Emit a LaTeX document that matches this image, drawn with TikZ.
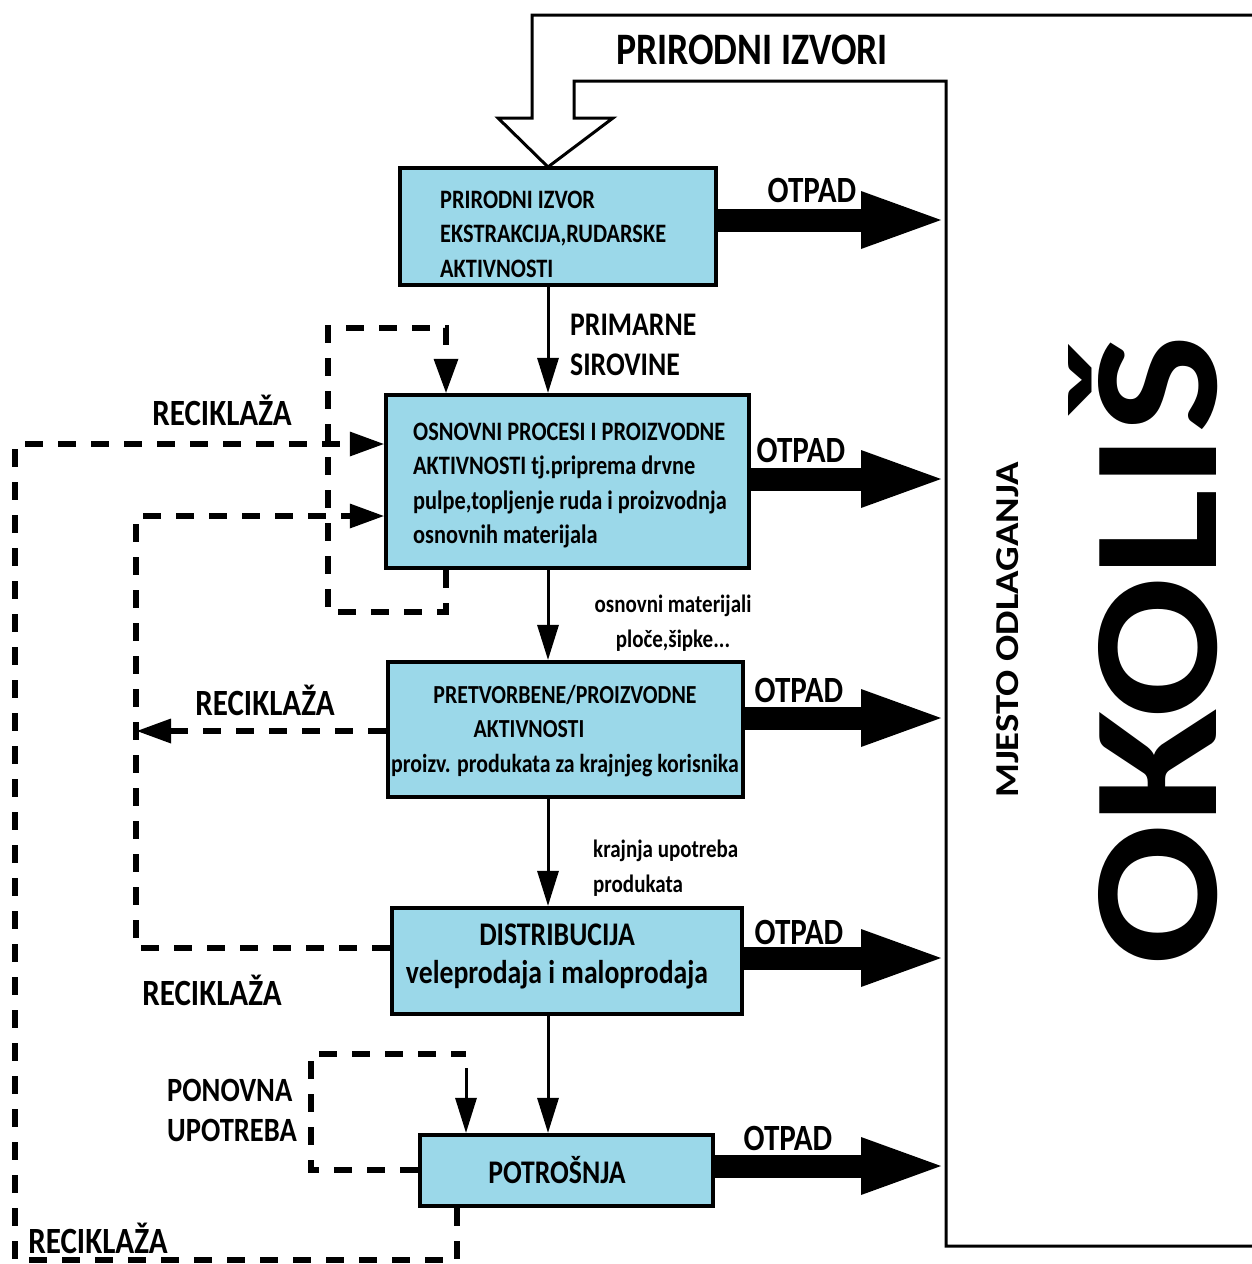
\documentclass[tikz,border=0pt]{standalone}
\usepackage{fontspec}
\setmainfont{Carlito}[FakeStretch=0.84]
\newfontfamily\widefont{Carlito}[FakeStretch=1.16]
\usetikzlibrary{arrows.meta}
\definecolor{boxblue}{RGB}{155,216,233}
\begin{document}
\begin{tikzpicture}[x=1pt,y=-1pt,
  box/.style={draw=black, line width=4.5pt, fill=boxblue, inner sep=0pt},
  frameline/.style={draw=black, line width=3pt, line join=miter},
  flow/.style={draw=black, line width=3pt, -{Triangle[length=35pt,width=22pt,line width=0pt]}},
  dashline/.style={draw=black, line width=6pt, dash pattern=on 18pt off 15pt, line join=miter},
  dasharrow/.style={dashline, -{Triangle[length=34pt,width=25pt,line width=0pt]}},
  otpadarrow/.style={draw=black, line width=23pt, -{Triangle[length=80pt,width=58pt,line width=0pt]}},
  lbl/.style={inner sep=0pt, font=\bfseries\fontsize{37}{40}\selectfont},
  midlbl/.style={inner sep=0pt, align=left, font=\bfseries\fontsize{33}{40}\selectfont},
  smalllbl/.style={inner sep=0pt, font=\bfseries\fontsize{25}{35}\selectfont},
  boxtext/.style={inner sep=0pt, font=\bfseries\fontsize{26.6}{34.3}\selectfont},
  bigboxtext/.style={inner sep=0pt, align=center, font=\bfseries\fontsize{33}{38}\selectfont}
]
\useasboundingbox (0,0) rectangle (1251,1264);

% environment frame with hollow arrow
\draw[frameline] (1260,15) -- (532,15) -- (532,118) -- (498,118) -- (548,167)
  -- (613,118) -- (574,118) -- (574,81) -- (946,81) -- (946,1246) -- (1260,1246);

\node[lbl, font=\bfseries\fontsize{45}{48}\selectfont] (prir) at (752,50) {PRIRODNI IZVORI};

% boxes
\node[box, minimum width=316pt, minimum height=117pt] (b1) at (558,226.5) {};
\node[box, minimum width=363pt, minimum height=173pt] (b2) at (567.5,481.5) {};
\node[box, minimum width=355pt, minimum height=135pt] (b3) at (565.5,729.5) {};
\node[box, minimum width=350pt, minimum height=106pt] (b4) at (567,961) {};
\node[box, minimum width=293pt, minimum height=71pt] (b5) at (566.5,1170.5) {};

% box texts
\node[boxtext, align=left, anchor=north west] (t1) at (440,191) {PRIRODNI IZVOR\\EKSTRAKCIJA,RUDARSKE\\AKTIVNOSTI};
\node[boxtext, align=left, anchor=north west] (t2) at (413,423) {OSNOVNI PROCESI I PROIZVODNE\\AKTIVNOSTI tj.priprema drvne\\pulpe,topljenje ruda i proizvodnja\\osnovnih materijala};
\node[boxtext, align=center, font=\bfseries\fontsize{26}{34.3}\selectfont] (t3) at (565,731) {PRETVORBENE/PROIZVODNE\\AKTIVNOSTI\rule{72pt}{0pt}\\proizv. produkata za krajnjeg korisnika};
\node[bigboxtext] (t4) at (557,956) {DISTRIBUCIJA\\veleprodaja i maloprodaja};
\node[bigboxtext] (t5) at (557,1170) {POTROŠNJA};

% main flow
\coordinate (vx) at (548,0);
\draw[flow] (b1.south -| vx) -- (b2.north -| vx);
\draw[flow] (b2.south -| vx) -- (b3.north -| vx);
\draw[flow] (b3.south -| vx) -- (b4.north -| vx);
\draw[flow] (b4.south -| vx) -- (b5.north -| vx);

\node[midlbl, anchor=west] (prim) at (570,345) {PRIMARNE\\SIROVINE};
\node[smalllbl, align=center] (osn) at (673,623) {osnovni materijali\\ploče,šipke...};
\node[smalllbl, align=left, anchor=west] (kraj) at (593,868) {krajnja upotreba\\produkata};

% OTPAD arrows
\coordinate (e1) at (941,220);
\coordinate (e2) at (941,479);
\coordinate (e3) at (941,718);
\coordinate (e4) at (941,958);
\coordinate (e5) at (941,1166);
\draw[otpadarrow] (b1.east |- e1) -- (e1);
\draw[otpadarrow] (b2.east |- e2) -- (e2);
\draw[otpadarrow] (b3.east |- e3) -- (e3);
\draw[otpadarrow] (b4.east |- e4) -- (e4);
\draw[otpadarrow] (b5.east |- e5) -- (e5);
\node[lbl] (o1) at (812,190) {OTPAD};
\node[lbl] (o2) at (801,450) {OTPAD};
\node[lbl] (o3) at (799,690) {OTPAD};
\node[lbl] (o4) at (799,932) {OTPAD};
\node[lbl] (o5) at (788,1138) {OTPAD};

% recycling loops
\coordinate (c446) at (446,0);
\coordinate (c457) at (457,0);
\coordinate (c466) at (466,0);
\coordinate (y445) at (0,444);
\coordinate (y516) at (0,516);
\coordinate (y731) at (0,731);
\coordinate (y948) at (0,948);
\coordinate (y1170) at (0,1170);
\coordinate (d3end) at (137,731);
\coordinate (r5top) at (466,1068);

\draw[dasharrow] (b2.south -| c446) -- (446,612) -- (328,612) -- (328,328) -- (446,328) -- (b2.north -| c446);
\draw[dasharrow] (b5.south -| c457) -- (457,1260) -- (15,1260) -- (15,444) -- (b2.west |- y445);
\draw[dasharrow] (b4.west |- y948) -- (136,948) -- (136,516) -- (b2.west |- y516);
\draw[dasharrow] (b3.west |- y731) -- (d3end);
\draw[dashline] (b5.west |- y1170) -- (311,1170) -- (311,1054) -- (466,1054);
\draw[flow] (r5top) -- (b5.north -| c466);

\node[lbl] (r1) at (222,410) {RECIKLAŽA};
\node[lbl] (r2) at (265,700) {RECIKLAŽA};
\node[lbl] (r3) at (212,990) {RECIKLAŽA};
\node[lbl] (r4) at (98,1238) {RECIKLAŽA};
\node[midlbl, anchor=west, font=\bfseries\fontsize{34}{40}\selectfont] (pon) at (167,1110) {PONOVNA\\UPOTREBA};

% environment labels
\node[inner sep=0pt, rotate=90, font=\widefont\bfseries\fontsize{33.4}{36}\selectfont] (mj) at (1008,630) {MJESTO ODLAGANJA};
\node[inner sep=0pt, rotate=90, font=\widefont\bfseries\fontsize{180}{190}\selectfont] (ok) at (1143,650) {OKOLIŠ};
\end{tikzpicture}
\end{document}
